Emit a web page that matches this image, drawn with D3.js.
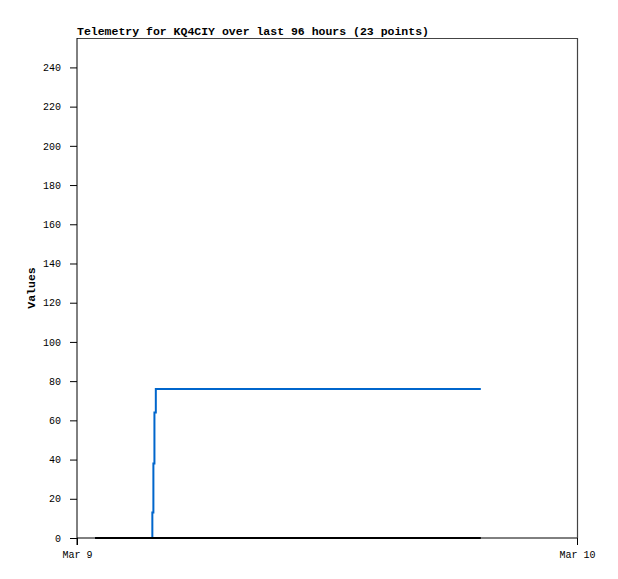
<!DOCTYPE html>
<meta charset="utf-8">
<style>
    body {
        margin: 0;
        background: #fff;
    }

    svg text {
        font-family: "Liberation Mono", "DejaVu Sans Mono", monospace;
    }
</style>
<svg width="618" height="579"></svg>
<script src="https://cdnjs.cloudflare.com/ajax/libs/d3/7.8.5/d3.min.js"></script>
<script>
    // sample times (hh:mm on Mar 9) and the two telemetry channels
    var times = ["00:52", "01:50", "02:45", "03:37", "03:40", "03:43", "03:47",
        "04:45", "05:45", "06:40", "07:40", "08:35", "09:35", "10:30", "11:30",
        "12:25", "13:25", "14:20", "15:20", "16:15", "17:15", "18:20", "19:23"];
    var blueValues = [0, 0, 0, 13, 38, 64, 76, 76, 76, 76, 76, 76, 76, 76, 76,
        76, 76, 76, 76, 76, 76, 76, 76];
    var blackValues = [0, 0, 0, 0, 0, 0, 0, 0, 0, 0, 0, 0, 0, 0, 0,
        0, 0, 0, 0, 0, 0, 0, 0];
    var yTicks = [0, 20, 40, 60, 80, 100, 120, 140, 160, 180, 200, 220, 240];
    var title = "Telemetry for KQ4CIY over last 96 hours (23 points)";

    var svg = d3.select("svg"),
        margin = {top: 38, right: 41, bottom: 41, left: 77},
        width = +svg.attr("width") - margin.left - margin.right,
        height = +svg.attr("height") - margin.top - margin.bottom;

    var parse = d3.timeParse("%Y-%m-%d %H:%M");
    var dates = times.map(function (t) { return parse("2021-03-09 " + t); });

    var x = d3.scaleTime()
        .domain([parse("2021-03-09 00:00"), parse("2021-03-10 00:00")])
        .range([0, width]);

    var y = d3.scaleLinear()
        .domain([0, 255])
        .range([height, 0]);

    var g = svg.append("g")
        .attr("transform", "translate(" + margin.left + "," + margin.top + ")");

    // frame: top and right in dark grey
    g.append("path")
        .attr("d", "M0,0.5H" + (width + 0.5) + "V" + height)
        .attr("fill", "none")
        .attr("stroke", "#444")
        .attr("stroke-width", 1.2);

    var yAxis = g.append("g")
        .call(d3.axisLeft(y).tickValues(yTicks).tickSizeInner(7).tickSizeOuter(0).tickPadding(9));
    yAxis.selectAll("text").attr("font-size", 10).attr("font-family", "DejaVu Sans").attr("fill", "#000");
    yAxis.select(".domain").remove();

    var xAxis = g.append("g")
        .attr("transform", "translate(0," + height + ")")
        .call(d3.axisBottom(x)
            .tickValues(x.domain())
            .tickFormat(d3.timeFormat("%b %-d"))
            .tickSizeInner(7).tickSizeOuter(0).tickPadding(6));
    xAxis.selectAll("text").attr("font-size", 10).attr("fill", "#000");
    xAxis.select(".domain").remove();

    // axis lines
    g.append("line")
        .attr("x1", 0).attr("x2", 0)
        .attr("y1", 0).attr("y2", height + 7)
        .attr("stroke", "#000");
    g.append("line")
        .attr("x1", 0).attr("x2", width)
        .attr("y1", height).attr("y2", height)
        .attr("stroke", "#000");

    var line = d3.line()
        .curve(d3.curveStepAfter)
        .x(function (d) { return x(d.t); })
        .y(function (d) { return y(d.v); });

    var blueData = dates.map(function (t, i) { return {t: t, v: blueValues[i]}; });
    var blackData = dates.map(function (t, i) { return {t: t, v: blackValues[i]}; });

    g.append("path")
        .datum(blueData)
        .attr("fill", "none")
        .attr("stroke", "#0066cc")
        .attr("stroke-width", 2)
        .attr("d", line);

    g.append("path")
        .datum(blackData)
        .attr("fill", "none")
        .attr("stroke", "#000")
        .attr("stroke-width", 2)
        .attr("d", line);

    svg.append("text")
        .attr("x", margin.left)
        .attr("y", 35)
        .attr("font-size", 11.5)
        .attr("font-weight", "bold")
        .text(title);

    svg.append("text")
        .attr("transform", "translate(35," + (margin.top + height / 2) + ") rotate(-90)")
        .attr("text-anchor", "middle")
        .attr("font-size", 11.5)
        .attr("font-weight", "bold")
        .text("Values");
</script>
